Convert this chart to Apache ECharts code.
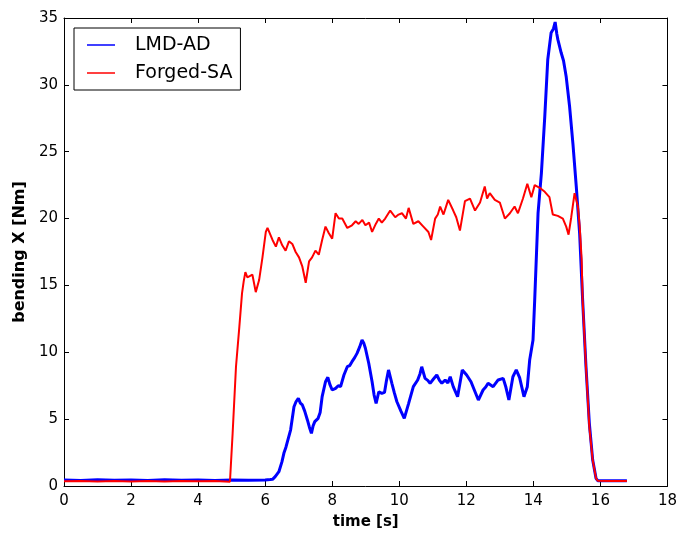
<!DOCTYPE html>
<html>
<head>
<meta charset="utf-8">
<script src="https://cdn.jsdelivr.net/npm/echarts@6/dist/echarts.min.js"></script>
<style>html,body{margin:0;padding:0;background:#fff}#c{width:680px;height:536px}</style>
</head>
<body>
<div id="c"></div>
<script>
var seriesNames = ['LMD-AD', 'Forged-SA'];
var xTicks = [0, 2, 4, 6, 8, 10, 12, 14, 16, 18];
var yTicks = [0, 5, 10, 15, 20, 25, 30, 35];

var blueT = [0,0.5,1.0,1.5,2.0,2.5,3.0,3.5,4.0,4.5,5.0,5.5,6.0,
  6.15,6.22,6.3,6.41,6.5,6.56,6.62,6.66,6.76,6.86,6.92,6.99,
  7.05,7.11,7.18,7.26,7.32,7.38,7.43,7.48,7.58,7.64,7.70,7.80,7.87,7.93,
  8.0,8.10,8.18,8.25,8.35,8.45,8.52,8.59,8.67,8.74,8.82,8.89,8.94,8.99,
  9.09,9.19,9.25,9.31,9.39,9.48,9.56,9.62,9.68,9.78,9.85,9.93,
  10.05,10.15,10.28,10.42,10.55,10.62,10.67,10.77,10.85,10.92,
  11.02,11.12,11.2,11.27,11.37,11.45,11.52,11.61,11.74,11.88,
  12.01,12.14,12.26,12.36,12.5,12.58,12.65,12.8,12.95,
  13.1,13.18,13.27,13.39,13.49,13.59,13.72,13.82,13.89,13.99,
  14.04,14.14,14.24,14.34,14.43,14.53,14.6,14.65,14.7,14.73,14.83,14.9,14.98,
  15.08,15.18,15.28,15.38,15.47,15.57,15.67,15.77,15.87,15.92,16.3,16.79];
var blueV = [0.45,0.42,0.47,0.43,0.45,0.41,0.46,0.43,0.45,0.42,0.45,0.43,0.45,
  0.48,0.5,0.7,1.07,1.8,2.46,2.9,2.84,4.2,5.93,6.3,6.56,
  6.2,6.06,5.6,4.94,4.4,3.94,4.5,4.81,5.06,5.5,6.68,7.8,8.13,7.6,
  7.18,7.3,7.5,7.43,8.3,8.92,9.0,9.3,9.6,9.92,10.4,10.92,10.7,10.3,
  9.18,7.8,6.8,6.18,7.05,6.93,7.0,7.9,8.68,7.68,7.0,6.3,
  5.6,5.06,6.18,7.43,7.93,8.4,8.92,8.05,7.9,7.68,
  8.0,8.3,7.9,7.68,7.93,7.7,8.17,7.43,6.68,8.68,
  8.3,7.8,7.05,6.43,7.18,7.4,7.68,7.43,7.93,
  8.05,7.4,6.43,8.17,8.68,8.1,6.68,7.43,9.42,10.92,
  13.9,20.4,23.4,27.6,31.9,33.9,34.2,34.7,33.8,33.4,32.4,31.8,30.6,
  28.4,25.6,22.4,18.9,13.9,8.92,4.69,1.94,0.57,0.4,0.4,0.4];

var redT = [0,0.5,1.0,1.5,2.0,2.5,3.0,3.5,4.0,4.5,4.95,
  5.03,5.13,5.23,5.31,5.36,5.41,5.47,5.52,5.62,5.72,5.82,5.92,
  6.02,6.07,6.12,6.22,6.32,6.41,6.51,6.61,6.71,6.81,6.91,
  7.01,7.11,7.21,7.31,7.40,7.50,7.60,7.70,7.80,7.90,
  8.0,8.10,8.20,8.30,8.45,8.59,8.7,8.79,8.9,8.99,
  9.1,9.19,9.3,9.39,9.48,9.58,9.73,9.88,9.98,
  10.08,10.2,10.28,10.33,10.42,10.57,10.72,10.87,10.95,
  11.07,11.15,11.22,11.32,11.46,11.61,11.7,11.81,11.96,
  12.11,12.26,12.41,12.55,12.62,12.70,12.85,
  13.0,13.15,13.3,13.44,13.54,13.69,13.82,13.94,
  14.04,14.19,14.34,14.48,14.58,14.73,14.88,14.98,
  15.05,15.13,15.23,15.33,15.38,15.44,15.47,15.57,15.67,15.77,15.87,15.92,16.3,16.79];
var redV = [0.35,0.38,0.33,0.37,0.34,0.38,0.33,0.37,0.35,0.38,0.32,
  3.94,8.92,11.9,14.4,15.3,16.0,15.6,15.5,15.8,14.5,15.4,17.1,
  19.0,19.3,19.0,18.4,17.9,18.6,18.0,17.6,18.3,18.1,17.5,
  17.1,16.4,15.2,16.8,17.1,17.6,17.3,18.4,19.4,18.9,
  18.5,20.4,20.0,20.0,19.3,19.5,19.8,19.6,19.9,19.5,
  19.7,19.0,19.6,20.0,19.7,20.0,20.6,20.1,20.3,
  20.4,20.0,20.8,20.9,19.6,19.8,19.4,19.0,18.4,
  20.0,20.3,20.9,20.3,21.4,20.6,20.1,19.1,21.3,
  21.5,20.6,21.2,22.4,21.5,21.9,21.4,
  21.2,20.0,20.4,20.9,20.4,21.5,22.6,21.6,
  22.5,22.3,22.0,21.6,20.3,20.2,20.0,19.4,
  18.8,20.1,21.9,20.9,19.5,17.0,13.9,8.9,4.4,1.94,0.57,0.4,0.38,0.38];

function zip(t, v) { return t.map(function (x, i) { return [x, v[i]]; }); }

var FONT = 'DejaVu Sans';
var chart = echarts.init(document.getElementById('c'), null, {renderer: 'canvas'});

function baseX(pos, show) {
  return {
    type: 'value', position: pos, min: xTicks[0], max: xTicks[xTicks.length - 1], interval: 2,
    axisLine: {show: true, onZero: false, lineStyle: {color: '#000', width: 1}},
    axisTick: {show: true, inside: true, length: 5, lineStyle: {color: '#000'}},
    axisLabel: {show: show, color: '#000', fontSize: 15, fontFamily: FONT, margin: 8},
    splitLine: {show: false}
  };
}
function baseY(pos, show) {
  return {
    type: 'value', position: pos, min: yTicks[0], max: yTicks[yTicks.length - 1], interval: 5,
    axisLine: {show: true, onZero: false, lineStyle: {color: '#000', width: 1}},
    axisTick: {show: true, inside: true, length: 5, lineStyle: {color: '#000'}},
    axisLabel: {show: show, color: '#000', fontSize: 15, fontFamily: FONT, margin: 6},
    splitLine: {show: false}
  };
}

var x0 = baseX('bottom', true);
x0.name = 'time [s]';
x0.nameLocation = 'middle';
x0.nameGap = 29;
x0.nameTextStyle = {color: '#000', fontSize: 15, fontWeight: 'bold', fontFamily: FONT};
var y0 = baseY('left', true);
y0.name = 'bending X [Nm]';
y0.nameLocation = 'middle';
y0.nameGap = 31;
y0.nameTextStyle = {color: '#000', fontSize: 16, fontWeight: 'bold', fontFamily: FONT};

chart.setOption({
  animation: false,
  backgroundColor: '#fff',
  grid: {left: 64, right: 10, top: 18, bottom: 50, containLabel: false},
  legend: {
    orient: 'vertical', left: 74, top: 28,
    data: seriesNames,
    icon: 'rect', itemWidth: 28, itemHeight: 1.5, itemGap: 6,
    backgroundColor: '#fff', borderColor: '#000', borderWidth: 1, borderRadius: 0,
    padding: [6, 8, 6, 13],
    textStyle: {color: '#000', fontSize: 19, fontFamily: FONT, lineHeight: 22, padding: [0, 0, 0, 15]}
  },
  xAxis: [x0, baseX('top', false)],
  yAxis: [y0, baseY('right', false)],
  series: [
    {name: seriesNames[0], type: 'line', xAxisIndex: 0, yAxisIndex: 0, data: zip(blueT, blueV),
     showSymbol: false, symbol: 'none', color: '#0000ff',
     lineStyle: {color: '#0000ff', width: 3}},
    {name: seriesNames[1], type: 'line', xAxisIndex: 0, yAxisIndex: 0, data: zip(redT, redV),
     showSymbol: false, symbol: 'none', color: '#ff0000',
     lineStyle: {color: '#ff0000', width: 2}}
  ]
});
</script>
</body>
</html>
